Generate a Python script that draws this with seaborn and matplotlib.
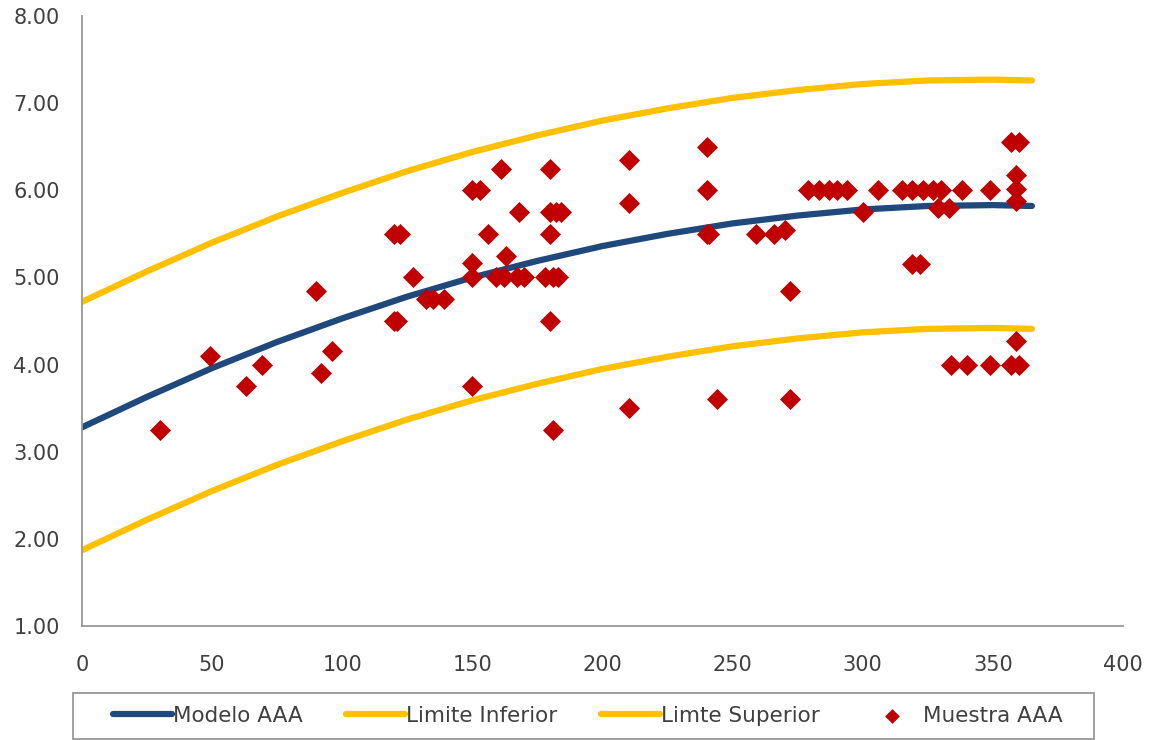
import matplotlib.pyplot as plt
from matplotlib.patches import Rectangle
import seaborn as sns
import pandas as pd

# Curve readings (days vs. value)
curve_x = [0, 25, 50, 75, 100, 125, 150, 175, 200, 225, 250, 275, 300, 325, 350, 365]
modelo = [3.28, 3.63, 3.96, 4.26, 4.53, 4.78, 5.00, 5.19, 5.36, 5.50, 5.62, 5.71, 5.78, 5.82, 5.83, 5.82]
lim_inf = [1.87, 2.22, 2.55, 2.85, 3.12, 3.37, 3.59, 3.78, 3.95, 4.09, 4.21, 4.30, 4.37, 4.41, 4.42, 4.41]
lim_sup = [4.72, 5.07, 5.40, 5.70, 5.97, 6.22, 6.44, 6.63, 6.80, 6.94, 7.06, 7.15, 7.22, 7.26, 7.27, 7.26]

# Sample points
muestra_x = [30, 49, 63, 69, 90, 92, 96, 120, 122, 120, 121, 127, 132, 135, 139,
             150, 153, 150, 150, 150, 156, 161, 159, 162, 167, 170, 163,
             168, 180, 180, 182, 184, 180, 178, 181, 183, 180, 181,
             210, 210, 210, 240, 240, 240, 241, 244, 259, 266, 270, 272, 272,
             279, 283, 287, 290, 294, 300, 306, 315, 319, 323, 327, 330,
             329, 333, 338, 349, 319, 322, 334, 340, 349, 357, 360, 359,
             357, 360, 359, 359, 359]
muestra_y = [3.25, 4.10, 3.75, 4.00, 4.85, 3.90, 4.15, 5.50, 5.50, 4.50, 4.50, 5.00, 4.75, 4.75, 4.75,
             6.00, 6.00, 5.17, 5.00, 3.75, 5.50, 6.25, 5.00, 5.00, 5.00, 5.00, 5.25,
             5.75, 6.25, 5.75, 5.75, 5.75, 5.50, 5.00, 5.00, 5.00, 4.50, 3.25,
             6.35, 5.85, 3.50, 6.50, 6.00, 5.50, 5.50, 3.60, 5.50, 5.50, 5.55, 4.85, 3.60,
             6.00, 6.00, 6.00, 6.00, 6.00, 5.75, 6.00, 6.00, 6.00, 6.00, 6.00, 6.00,
             5.80, 5.80, 6.00, 6.00, 5.15, 5.15, 4.00, 4.00, 4.00, 4.00, 4.00, 4.27,
             6.55, 6.55, 6.18, 6.01, 5.88]

curves = pd.DataFrame({"x": curve_x, "Modelo AAA": modelo,
                       "Limite Inferior": lim_inf, "Limte Superior": lim_sup})
muestra = pd.DataFrame({"x": muestra_x, "y": muestra_y})

sns.set_theme(style="white")
plt.rcParams["font.family"] = ["DejaVu Sans"]

BLUE = "#1F497D"
GOLD = "#FFC000"
RED = "#C00000"
GREY = "#979797"
TEXT = "#404040"

W, H = 1162, 740
fig = plt.figure(figsize=(W / 100, H / 100), dpi=100)
ax = fig.add_axes([82 / W, 1 - 626 / H, (1123 - 82) / W, (626 - 16) / H])

for name, color in [("Modelo AAA", BLUE), ("Limite Inferior", GOLD), ("Limte Superior", GOLD)]:
    sns.lineplot(data=curves, x="x", y=name, color=color, linewidth=4.5,
                 label=name, ax=ax, sort=False, solid_capstyle="round")

sns.scatterplot(data=muestra, x="x", y="y", marker="D", s=115, color=RED,
                edgecolor=RED, linewidth=0, label="Muestra AAA", ax=ax, zorder=3)

ax.set_xlim(0, 400)
ax.set_ylim(1, 8)
ax.set_xticks(range(0, 401, 50))
ax.set_yticks(range(1, 9))
ax.set_yticklabels([f"{v:.2f}" for v in range(1, 9)])
ax.set_xlabel("")
ax.set_ylabel("")

for side in ["top", "right"]:
    ax.spines[side].set_visible(False)
for side in ["left", "bottom"]:
    ax.spines[side].set_color(GREY)
    ax.spines[side].set_linewidth(1.3)
ax.tick_params(axis="both", direction="out", length=6, width=1.3, color=GREY,
               labelsize=15, labelcolor=TEXT)
ax.tick_params(axis="y", pad=10)
ax.tick_params(axis="x", pad=15)

# legend: entries without frame, frame drawn as a plain box
handles, labels = ax.get_legend_handles_labels()
ax.get_legend().remove()
leg = fig.legend(handles, labels, loc="center left", ncol=4,
                 bbox_to_anchor=(113 / W, 1 - 716 / H),
                 frameon=False, fontsize=15.5, labelcolor=TEXT,
                 handlelength=2.75, handletextpad=0.05, columnspacing=2.0,
                 borderpad=0, borderaxespad=0, markerscale=0.7)
fig.add_artist(Rectangle((73 / W, 1 - 739 / H), (1094 - 73) / W, 46 / H,
                         transform=fig.transFigure, fill=False,
                         edgecolor=GREY, linewidth=1.3))

fig.savefig("out.png", dpi=100)
